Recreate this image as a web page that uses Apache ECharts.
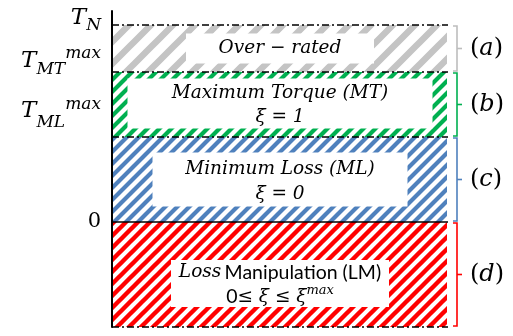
<!DOCTYPE html>
<html><head><meta charset="utf-8">
<script src="https://cdn.jsdelivr.net/npm/echarts@6/dist/echarts.min.js"></script>
<style>html,body{margin:0;padding:0;background:#fff}#c{width:513px;height:336px}</style>
</head><body><div id="c"></div>
<script>
// ---------- data ----------
const regionTitles = ['Over − rated', 'Maximum Torque (MT)', 'Minimum Loss (ML)', 'Loss Manipulation (LM)'];
const regionSubtitles = ['', 'ξ = 1', 'ξ = 0', '0≤ ξ ≤ ξmax'];
const regionLower = [150, 85, 0, -105];
const regionUpper = [197, 150, 85, 0];
const bracketLabels = ['a', 'b', 'c', 'd'];
const tickValues = [197, 150, 85, 0];
const tickBase = ['T', 'T', 'T', '0'];
const tickSub = ['N', 'MT', 'ML', ''];
const tickSup = ['', 'max', 'max', ''];
const boundaryValues = [197, 150, 85, 0, -105];
const boundaryKinds = ['dashdot', 'dashdot', 'dashdot', 'solid', 'dashdot'];

// ---------- styles ----------
const SERIF = 'DejaVu Serif';
const SANS = 'Lato';
const regionColors = ['#c4c4c4', '#00b050', '#4f81bd', '#ff0000'];
const bracketColors = ['#bdbdbd', '#00b050', '#4f81bd', '#ff0000'];
const hatchPeriod = [22, 12, 12, 12];
const hatchWidth = [6.5, 4.2, 4.2, 4.4];
const boxSize = [[188, 30], [305, 50], [255, 54], [218, 47]];
const boxShift = [0, -1, 0, 9];
const textShift = [0, 1.5, 2, 1];
const dashDot = [7, 3, 2, 3];

function hatch(color, P, w) {
  const c = document.createElement('canvas');
  c.width = P; c.height = P;
  const ctx = c.getContext('2d');
  ctx.fillStyle = '#fff'; ctx.fillRect(0, 0, P, P);
  ctx.strokeStyle = color; ctx.lineWidth = w;
  ctx.beginPath();
  for (const k of [0, P, 2 * P]) { ctx.moveTo(-P, k + P); ctx.lineTo(k + P, -P); }
  ctx.stroke();
  return c;
}
const patterns = regionColors.map((c, i) => ({ image: hatch(c, hatchPeriod[i], hatchWidth[i]), repeat: 'repeat' }));

// axis label tokens: rel = baseline offset from tick (px); H = label box height
function tok(size, rel, Hh, extra) {
  const c = rel - 0.32 * size;
  const pT = Hh / 2 + c - size / 2;
  return Object.assign({ fontFamily: SERIF, fontStyle: 'italic', fontSize: size, height: size,
    verticalAlign: 'top', color: '#000', padding: [pT, 0, Hh - pT - size, 0] }, extra || {});
}
const tickRel = [[0, 6, 0], [-4, 3, -13], [-19, -9, -27], [6, 0, 0]];
const tickBoxH = [40, 56, 84, 26];
const axisRich = {};
tickValues.forEach((v, i) => {
  axisRich['b' + i] = tok(i === 3 ? 21 : 23, tickRel[i][0], tickBoxH[i], i === 3 ? { fontStyle: 'normal' } : null);
  axisRich['s' + i] = tok(17, tickRel[i][1], tickBoxH[i]);
  axisRich['p' + i] = tok(17, tickRel[i][2], tickBoxH[i]);
});

function regionText(i) {
  if (i === 3) {
    return '{it|Loss} {sans|Manipulation (LM)}\n{sans|0}{it|≤ ξ ≤ ξ}{sup|max}';
  }
  let s = '{it|' + regionTitles[i] + '}';
  if (regionSubtitles[i]) s += '\n{it|' + regionSubtitles[i] + '}';
  return s;
}
const boxRich = {
  it: { fontFamily: SERIF, fontStyle: 'italic', fontSize: 18.5, lineHeight: 24.5, fill: '#000' },
  sans: { fontFamily: SANS, fontSize: 19.5, lineHeight: 21, fill: '#000' },
  sup: { fontFamily: SERIF, fontStyle: 'italic', fontSize: 13, lineHeight: 21, verticalAlign: 'top', padding: [0, 0, 6, 0], fill: '#000' }
};

const chart = echarts.init(document.getElementById('c'), null, { renderer: 'canvas' });
chart.setOption({
  animation: false,
  backgroundColor: '#fff',
  grid: { left: 112, right: 65, top: 11, bottom: 9, outerBoundsMode: 'none', containLabel: false },
  xAxis: { type: 'value', min: 0, max: 1, show: false },
  yAxis: {
    type: 'value', min: -105, max: 211, z: 10,
    splitLine: { show: false },
    axisTick: { show: false },
    axisLine: { show: true, lineStyle: { color: '#000', width: 2 } },
    axisLabel: {
      customValues: tickValues, margin: 11, hideOverlap: false,
      showMinLabel: true, showMaxLabel: true,
      formatter: (v) => {
        const i = tickValues.indexOf(v);
        if (i < 0) return '';
        let s = '{b' + i + '|' + tickBase[i] + '}';
        if (tickSub[i]) s += '{s' + i + '|' + tickSub[i] + '}';
        if (tickSup[i]) s += '{p' + i + '|' + tickSup[i] + '}';
        return s;
      },
      rich: axisRich
    }
  },
  series: [
    {
      type: 'custom', z: 2,
      data: regionLower.map((lo, i) => [lo, regionUpper[i]]),
      encode: { y: [0, 1] },
      renderItem: (params, api) => {
        const i = params.dataIndex;
        const lo = api.value(0), hi = api.value(1);
        const a = api.coord([0, hi]), b = api.coord([1, lo]);
        const cx = (a[0] + b[0]) / 2, cy = (a[1] + b[1]) / 2 + boxShift[i];
        const bw = boxSize[i][0], bh = boxSize[i][1];
        return {
          type: 'group',
          children: [
            { type: 'rect', shape: { x: a[0] + 1, y: a[1], width: b[0] - a[0] - 2, height: b[1] - a[1] }, style: { fill: patterns[i] } },
            { type: 'rect', shape: { x: cx - bw / 2, y: cy - bh / 2, width: bw, height: bh }, style: { fill: '#fff' } },
            { type: 'text', x: cx, y: cy + textShift[i], style: { text: regionText(i), rich: boxRich, align: 'center', verticalAlign: 'middle', fill: '#000' } }
          ]
        };
      },
      markLine: {
        silent: true, symbol: ['none', 'none'], label: { show: false }, z: 5,
        data: boundaryValues.map((v, i) => ({ yAxis: v, lineStyle: { color: '#000', width: 1.6, type: boundaryKinds[i] === 'solid' ? 'solid' : dashDot } }))
      }
    },
    {
      type: 'custom', z: 3,
      data: regionLower.map((lo, i) => [lo, regionUpper[i]]),
      encode: { y: [0, 1] },
      renderItem: (params, api) => {
        const i = params.dataIndex;
        const lo = api.value(0), hi = api.value(1);
        const a = api.coord([1, hi]), b = api.coord([1, lo]);
        const x = a[0] + 9, y1 = a[1] + 1, y2 = b[1] - 1, ym = (y1 + y2) / 2;
        const st = { stroke: bracketColors[i], lineWidth: 1.6, fill: null };
        return {
          type: 'group',
          children: [
            { type: 'polyline', shape: { points: [[x - 4, y1], [x, y1], [x, y2], [x - 4, y2]] }, style: st },
            { type: 'line', shape: { x1: x, y1: ym, x2: x + 5, y2: ym }, style: st },
            { type: 'text', x: x + 13, y: ym, style: { text: '{p|(}{i|' + bracketLabels[i] + '}{p|)}', align: 'left', verticalAlign: 'middle',
              rich: { p: { fontFamily: SERIF, fontSize: 24, fill: '#000' }, i: { fontFamily: SERIF, fontStyle: 'italic', fontSize: 24, fill: '#000' } } } }
          ]
        };
      }
    }
  ]
});
</script>
</body></html>
